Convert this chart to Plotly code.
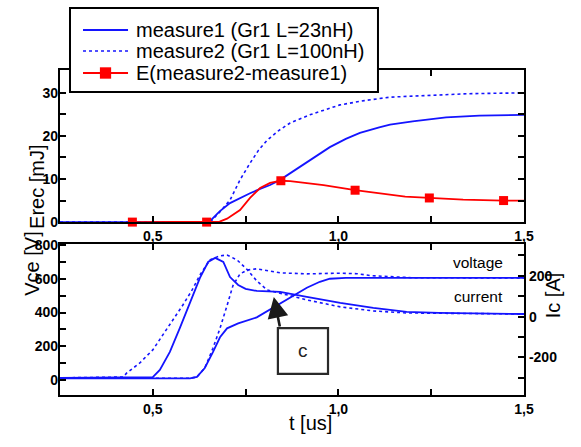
import plotly.graph_objects as go

BLUE = "#1414ff"
RED = "#ff0000"
FONT = "Liberation Sans, Arial, sans-serif"

# ---------- top panel: recovery energy Erec [mJ] ----------
t_erec1 = [0.25, 0.645, 0.654, 0.68, 0.708, 0.735, 0.762, 0.789, 0.816, 0.843, 0.87, 0.897,
           0.935, 0.977, 1.02, 1.058, 1.11, 1.139, 1.2, 1.29, 1.38, 1.5]
erec1 = [0, 0, 0.2, 2.5, 4.4, 5.6, 6.7, 7.7, 8.6, 9.8, 11.3, 12.8,
         15.0, 17.4, 19.3, 20.7, 22.0, 22.6, 23.4, 24.3, 24.7, 24.9]

t_erec2 = [0.25, 0.645, 0.66, 0.68, 0.708, 0.735, 0.762, 0.785, 0.808, 0.84, 0.87, 0.923,
           1.004, 1.07, 1.139, 1.25, 1.35, 1.5]
erec2 = [0, 0, 0.5, 2.3, 5.1, 9.8, 13.7, 16.7, 19.0, 21.3, 23.0, 24.9,
         27.2, 28.2, 29.0, 29.5, 29.8, 30.0]

t_ediff = [0.445, 0.645, 0.68, 0.70, 0.735, 0.762, 0.789, 0.816, 0.845, 0.87, 0.96, 1.045,
           1.11, 1.18, 1.245, 1.336, 1.445, 1.5]
ediff = [0, 0, 0.1, 0.8, 2.8, 5.6, 7.9, 9.1, 9.6, 9.5, 8.6, 7.4,
         6.7, 5.9, 5.6, 5.2, 5.0, 5.0]

t_ediff_marks = [0.445, 0.645, 0.845, 1.045, 1.245, 1.445]
ediff_marks = [0, 0, 9.6, 7.4, 5.6, 5.0]

# ---------- bottom panel: Vce [V] and Ic [A] ----------
t_v1 = [0.25, 0.60, 0.619, 0.64, 0.662, 0.681, 0.70, 0.73, 0.78, 0.824, 0.87, 0.915,
        0.95, 0.977, 1.02, 1.1, 1.2, 1.5]
vce1 = [10, 10, 18, 71, 165, 253, 306, 335, 371, 429, 488, 547,
        582, 600, 605, 606, 605, 605]

t_v2 = [0.25, 0.60, 0.619, 0.64, 0.662, 0.681, 0.70, 0.716, 0.735, 0.755, 0.78, 0.81,
        0.843, 0.915, 1.0, 1.05, 1.09, 1.2, 1.5]
vce2 = [10, 10, 18, 71, 188, 306, 441, 560, 629, 652, 659, 648,
        635, 629, 633, 630, 618, 606, 605]

t_i1 = [0.25, 0.50, 0.519, 0.546, 0.573, 0.60, 0.627, 0.649, 0.668, 0.69, 0.708, 0.73,
        0.75, 0.78, 0.843, 0.915, 1.005, 1.094, 1.184, 1.27, 1.5]
ic1 = [-300, -296, -261, -173, -55, 67, 190, 268, 288, 268, 194, 155,
       136, 126, 121, 97, 67, 43, 23, 18, 13]

t_i2 = [0.25, 0.42, 0.43, 0.465, 0.5, 0.546, 0.581, 0.606, 0.627, 0.654, 0.68, 0.70,
        0.727, 0.755, 0.78, 0.808, 0.843, 0.915, 1.005, 1.094, 1.184, 1.5]
ic2 = [-300, -296, -276, -227, -163, -41, 57, 131, 204, 278, 298, 302,
       278, 229, 175, 131, 116, 82, 48, 28, 18, 13]

# ---------- ticks ----------
x_ticks = [0.5, 1.0, 1.5]
x_ticktext = ["0,5", "1,0", "1,5"]
x_minor = [0.75, 1.25]
erec_ticks = [0, 10, 20, 30]
erec_minor = [5, 15, 25]
vce_ticks = [0, 200, 400, 600, 800]
vce_minor = [100, 300, 500, 700]
ic_ticks = [-200, 0, 200]
ic_minor = [-300, -100, 100, 300]

legend_names = ["measure1 (Gr1 L=23nH)", "measure2 (Gr1 L=100nH)", "E(measure2-measure1)"]


def bold(labels):
    return ["<b>%s</b>" % s for s in labels]


fig = go.Figure()

# top panel traces
fig.add_trace(go.Scatter(x=t_erec1, y=erec1, mode="lines", name=legend_names[0],
                         line=dict(color=BLUE, width=1.8), xaxis="x", yaxis="y"))
fig.add_trace(go.Scatter(x=t_erec2, y=erec2, mode="lines", name=legend_names[1],
                         line=dict(color=BLUE, width=1.6, dash="dot"), xaxis="x", yaxis="y"))
fig.add_trace(go.Scatter(x=t_ediff, y=ediff, mode="lines", name=legend_names[2],
                         line=dict(color=RED, width=1.8), xaxis="x", yaxis="y"))
fig.add_trace(go.Scatter(x=t_ediff_marks, y=ediff_marks, mode="markers", name=legend_names[2],
                         marker=dict(color=RED, size=9, symbol="square"), xaxis="x", yaxis="y",
                         cliponaxis=False))

# bottom panel traces
fig.add_trace(go.Scatter(x=t_v1, y=vce1, mode="lines", name="voltage " + legend_names[0],
                         line=dict(color=BLUE, width=1.8), xaxis="x2", yaxis="y2"))
fig.add_trace(go.Scatter(x=t_v2, y=vce2, mode="lines", name="voltage " + legend_names[1],
                         line=dict(color=BLUE, width=1.6, dash="dot"), xaxis="x2", yaxis="y2"))
fig.add_trace(go.Scatter(x=t_i1, y=ic1, mode="lines", name="current " + legend_names[0],
                         line=dict(color=BLUE, width=1.8), xaxis="x2", yaxis="y3"))
fig.add_trace(go.Scatter(x=t_i2, y=ic2, mode="lines", name="current " + legend_names[1],
                         line=dict(color=BLUE, width=1.6, dash="dot"), xaxis="x2", yaxis="y3"))

tickfont = dict(family=FONT, size=14, color="black")
axis_common = dict(showline=True, linecolor="black", linewidth=2.2, ticks="inside",
                   ticklen=6, tickwidth=2, tickcolor="black", showgrid=False,
                   zeroline=False, tickfont=tickfont)
minor_common = dict(ticks="inside", ticklen=6, tickwidth=2, tickcolor="black")

fig.update_layout(
    width=581, height=447,
    margin=dict(l=60, r=57, t=70, b=52),
    paper_bgcolor="white", plot_bgcolor="white",
    font=dict(family=FONT, color="black"),
    showlegend=False,
    xaxis=dict(domain=[0, 1], anchor="y", range=[0.25, 1.5], tickvals=x_ticks,
               ticktext=bold(x_ticktext), mirror="allticks",
               minor=dict(tickvals=x_minor, **minor_common), **axis_common),
    yaxis=dict(domain=[0.532, 1], anchor="x", range=[0, 35.3], tickvals=erec_ticks,
               ticktext=bold([str(v) for v in erec_ticks]),
               mirror="allticks", ticklabelstandoff=-3,
               minor=dict(tickvals=erec_minor, **minor_common), **axis_common),
    xaxis2=dict(domain=[0, 1], anchor="y2", range=[0.25, 1.5], tickvals=x_ticks,
                ticktext=bold(x_ticktext), mirror="allticks",
                minor=dict(tickvals=x_minor, **minor_common), **axis_common),
    yaxis2=dict(domain=[0, 0.4646], anchor="x2", range=[-89, 806], tickvals=vce_ticks,
                ticktext=bold([str(v) for v in vce_ticks]), ticklabelstandoff=-3,
                minor=dict(tickvals=vce_minor, **minor_common), **axis_common),
    yaxis3=dict(overlaying="y2", anchor="x2", side="right", range=[-384, 356],
                tickvals=ic_ticks, ticktext=bold([str(v) for v in ic_ticks]),
                minor=dict(tickvals=ic_minor, **minor_common), **axis_common),
)

# ---------- legend box (drawn in paper space) ----------
leg_x0, leg_x1, leg_y0, leg_y1 = 0.02155, 0.6853, 0.9323, 1.1908
row_y = [1.1231, 1.0585, 0.9908]
sample_x0, sample_x1, text_x = 0.0496, 0.1466, 0.1595
fig.add_shape(type="rect", xref="paper", yref="paper", x0=leg_x0, x1=leg_x1,
              y0=leg_y0, y1=leg_y1, line=dict(color="black", width=2), fillcolor="white",
              layer="above")
sample_styles = [dict(color=BLUE, width=1.8), dict(color=BLUE, width=1.6, dash="dot"),
                 dict(color=RED, width=1.8)]
for name, yy, st in zip(legend_names, row_y, sample_styles):
    fig.add_shape(type="line", xref="paper", yref="paper", x0=sample_x0, x1=sample_x1,
                  y0=yy, y1=yy, line=st, layer="above")
    fig.add_annotation(text=name, xref="paper", yref="paper", x=text_x, y=yy,
                       xanchor="left", yanchor="middle", showarrow=False,
                       font=dict(family=FONT, size=20, color="black"))
mx = (sample_x0 + sample_x1) / 2
fig.add_shape(type="rect", xref="paper", yref="paper", x0=mx - 0.0121, x1=mx + 0.0121,
              y0=row_y[2] - 0.0175, y1=row_y[2] + 0.0175, line=dict(width=0),
              fillcolor=RED, layer="above")

# axis titles
title_font = dict(family=FONT, size=20, color="black")
fig.add_annotation(text="Erec [mJ]", xref="paper", yref="paper", x=-0.078, y=0.775,
                   textangle=-90, showarrow=False, font=title_font)
fig.add_annotation(text="Vce [V]", xref="paper", yref="paper", x=-0.087, y=0.298,
                   textangle=-90, showarrow=False, font=title_font)
fig.add_annotation(text="Ic [A]", xref="paper", yref="paper", x=1.0905, y=0.23,
                   textangle=-90, showarrow=False, font=title_font)
fig.add_annotation(text="t [us]", xref="paper", yref="paper", x=0.539, y=-0.126,
                   showarrow=False, font=title_font)

# curve labels
label_font = dict(family=FONT, size=15.5, color="black")
fig.add_annotation(text="voltage", xref="x2", yref="y2", x=1.449, y=699, xanchor="right",
                   showarrow=False, font=label_font)
fig.add_annotation(text="current", xref="x2", yref="y2", x=1.449, y=492, xanchor="right",
                   showarrow=False, font=label_font)

# "c" callout
fig.add_shape(type="rect", xref="x2", yref="y2", x0=0.837, x1=0.972, y0=36, y1=308,
              line=dict(color="#2a2a2a", width=2.2), fillcolor="white")
fig.add_annotation(text="c", xref="x2", yref="y2", x=0.905, y=172, showarrow=False,
                   font=dict(family=FONT, size=19, color="#222222"))
fig.add_annotation(text="", xref="x2", yref="y2", x=0.826, y=492,
                   axref="x2", ayref="y2", ax=0.843, ay=308,
                   showarrow=True, arrowhead=2, arrowsize=1.6, arrowwidth=2.6,
                   arrowcolor="#1a1a1a")

fig.write_html("out.html")
